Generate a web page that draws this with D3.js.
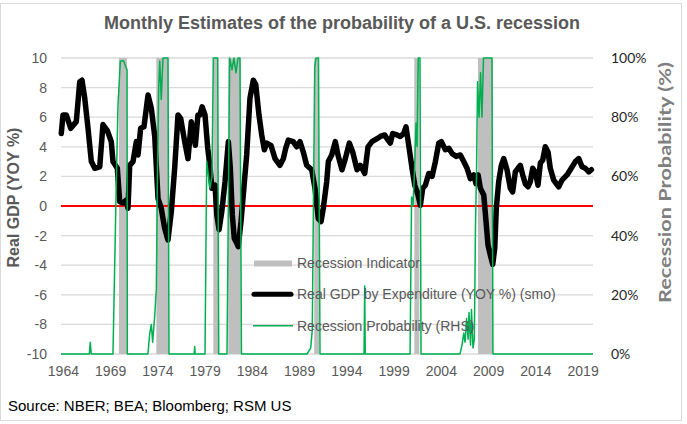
<!DOCTYPE html>
<html><head><meta charset="utf-8">
<script src="https://cdn.jsdelivr.net/npm/d3@7"></script>
<style>body{margin:0;background:#fff} svg{display:block}</style>
</head><body><svg id="c" width="687" height="424"></svg>
<script>
const yearTicks = [1964,1969,1974,1979,1984,1989,1994,1999,2004,2009,2014,2019];
const gdpTicks = [-10,-8,-6,-4,-2,0,2,4,6,8,10];
const probTicks = [0,20,40,60,80,100];
const recessionStart = [1969.93,1973.89,1979.92,1981.5,1990.6,2001.19,2007.93];
const recessionEnd   = [1970.78,1975.2,1980.45,1982.82,1991.1,2001.72,2009.49];
const gdpDates = [1963.83,1964.01,1964.36,1964.83,1965.42,1965.78,1966.02,1966.31,1966.66,1967.01,1967.37,1967.9,1968.24,1968.7,1969.12,1969.3,1969.76,1970.01,1970.36,1970.71,1970.89,1971.07,1971.42,1971.77,1971.95,1972.23,1972.58,1973.01,1973.36,1973.72,1974.07,1974.41,1974.77,1975.12,1975.47,1975.83,1976.18,1976.47,1976.89,1977.24,1977.59,1978.02,1978.29,1978.5,1978.74,1979.04,1979.33,1979.58,1979.76,1980.1,1980.29,1980.53,1980.81,1981.16,1981.51,1981.72,1981.93,1982.14,1982.39,1982.56,1982.85,1983.09,1983.45,1983.8,1984.15,1984.41,1984.75,1985.04,1985.32,1985.57,1986.02,1986.45,1986.97,1987.33,1987.58,1987.86,1988.38,1988.74,1989.09,1989.44,1989.8,1990.33,1990.68,1991.03,1991.32,1991.56,1991.92,1992.09,1992.45,1992.83,1993.11,1993.54,1993.89,1994.31,1994.67,1995.13,1995.47,1995.94,1996.29,1996.71,1997.24,1997.59,1998.06,1998.3,1998.65,1998.9,1999.36,1999.71,2000.07,2000.31,2000.6,2000.95,2001.24,2001.58,2001.83,2002.08,2002.36,2002.72,2003.07,2003.42,2003.78,2004.05,2004.48,2004.84,2005.19,2005.61,2006.06,2006.42,2006.77,2007.12,2007.48,2007.72,2007.94,2008.18,2008.54,2008.78,2008.99,2009.23,2009.49,2009.7,2009.87,2010.12,2010.4,2010.65,2011.0,2011.35,2011.6,2011.88,2012.16,2012.41,2012.66,2012.94,2013.22,2013.47,2013.72,2013.99,2014.28,2014.53,2014.78,2015.05,2015.34,2015.58,2015.94,2016.47,2016.82,2017.35,2017.7,2018.23,2018.59,2018.94,2019.29,2019.65,2019.93];
const gdpValues = [4.9,6.15,6.15,5.25,5.7,8.4,8.5,7.3,5.25,3.0,2.55,2.65,5.5,5.1,4.35,3.0,2.55,0.3,0.2,0.4,-0.15,2.75,3.0,4.35,3.45,5.25,5.35,7.5,6.6,4.7,0.5,-0.15,-1.5,-2.3,-0.4,2.55,6.15,5.9,4.35,3.2,5.7,4.1,6.15,6.15,6.7,6.15,3.9,2.55,1.2,1.4,-0.6,-1.6,-0.4,1.65,4.35,2.55,-0.6,-2.2,-2.5,-2.75,-1.05,0.75,3.45,7.3,8.5,8.2,6.15,4.8,3.8,4.25,4.1,3.2,2.75,3.2,3.9,4.45,4.35,4.0,4.35,3.65,2.75,2.45,1.2,-0.85,-1.05,-0.15,1.65,3.0,3.45,4.35,3.45,2.45,3.2,4.25,3.65,2.45,2.75,2.2,4.0,4.35,4.55,4.7,4.8,4.55,4.25,4.9,4.8,4.7,4.9,5.35,4.1,2.55,1.4,0.75,0.05,1.2,1.4,2.2,2.0,3.0,4.25,4.35,3.8,3.9,3.55,3.35,3.45,3.0,2.55,1.85,2.1,1.5,2.1,1.2,0.75,-1.05,-2.65,-3.3,-3.95,-2.85,-0.15,1.65,2.75,3.2,2.45,1.2,0.95,2.3,2.55,2.75,2.1,1.5,1.3,1.65,2.55,2.3,1.4,2.9,3.1,4.0,3.65,2.55,1.75,1.3,1.75,2.1,2.45,3.0,3.2,2.65,2.55,2.3,2.45];
const probDates = [1963.8,1966.8,1966.9,1967.0,1969.3,1969.64,1969.83,1970.08,1970.44,1970.65,1970.79,1970.82,1973.0,1973.19,1973.36,1973.5,1973.72,1973.89,1973.99,1974.14,1974.25,1974.41,1974.59,1975.12,1975.23,1977.9,1977.95,1978.0,1979.04,1979.22,1979.57,1979.78,1979.92,1980.38,1980.49,1981.37,1981.65,1981.9,1982.1,1982.32,1982.53,1982.74,1982.9,1989.83,1990.22,1990.39,1990.65,1990.79,1991.05,1991.21,1995.87,1995.94,1996.0,2000.74,2000.9,2001.05,2001.21,2001.37,2001.48,2001.61,2001.79,2001.9,2006.02,2006.24,2006.42,2006.56,2006.72,2006.88,2006.98,2007.14,2007.24,2007.4,2007.54,2007.67,2007.77,2007.88,2008.04,2008.2,2008.35,2008.51,2009.41,2009.51,2020.1];
const probValues = [0,0,4,0,0,56,84,99,99,97,96,0,0,7,10,4,13,22,56,90,99,86,100,100,0,0,2.5,0,0,65,56,60,100,100,0,0,100,96,100,95,100,100,0,0,2,8,97,100,100,0,0,23,0,0,53,50,62,78,70,100,100,0,0,3,7,4,12,5,14,3,15,2,5,45,60,92,80,95,80,100,100,0,0];

const svg = d3.select("#c");
const L = 61, R = 593, T = 58, B = 354;
const x = d3.scaleLinear().domain([1963.8, 2020.1]).range([L, R]);
const yL = d3.scaleLinear().domain([-10, 10]).range([B, T]);
const yR = d3.scaleLinear().domain([0, 100]).range([B, T]);

// frame
svg.append("rect").attr("x",0.5).attr("y",3.5).attr("width",681).attr("height",417)
  .attr("fill","#fff").attr("stroke","#D9D9D9").attr("stroke-width",1);

// gridlines
svg.append("g").selectAll("line").data(gdpTicks).join("line")
  .attr("x1",L).attr("x2",R).attr("y1",d=>yL(d)).attr("y2",d=>yL(d))
  .attr("stroke","#D9D9D9").attr("stroke-width",1.3);

// recession bands
svg.append("g").selectAll("rect").data(recessionStart).join("rect")
  .attr("x",(d)=>x(d)).attr("width",(d,i)=>x(recessionEnd[i])-x(d))
  .attr("y",yR(100)).attr("height",yR(0)-yR(100)).attr("fill","#BFBFBF");

// zero line
svg.append("line").attr("x1",L).attr("x2",R).attr("y1",yL(0)).attr("y2",yL(0))
  .attr("stroke","#FF0000").attr("stroke-width",2);

// GDP line
const gdpLine = d3.line().x((d,i)=>x(gdpDates[i])).y(d=>yL(d));
svg.append("path").datum(gdpValues).attr("d",gdpLine).attr("fill","none")
  .attr("stroke","#000").attr("stroke-width",5.5).attr("stroke-linejoin","round").attr("stroke-linecap","round");

// probability line
const probLine = d3.line().x((d,i)=>x(probDates[i])).y(d=>yR(d));
svg.append("path").datum(probValues).attr("d",probLine).attr("fill","none")
  .attr("stroke","#00B050").attr("stroke-width",1.5).attr("stroke-linejoin","round");

// axes
const fontA = "'Liberation Sans', Arial, sans-serif";
const gL = svg.append("g").attr("transform",`translate(${L},0)`)
  .call(d3.axisLeft(yL).tickValues(gdpTicks).tickSize(0).tickPadding(14).tickFormat(d=>String(d)));
gL.select(".domain").remove();
gL.selectAll("text").attr("font-family",fontA).attr("font-size",14).attr("fill","#595959");

const gR = svg.append("g").attr("transform",`translate(${R},0)`)
  .call(d3.axisRight(yR).tickValues(probTicks).tickSize(0).tickPadding(18).tickFormat(d=>d+"%"));
gR.select(".domain").remove();
gR.selectAll("text").attr("font-family","Lato, 'Open Sans', sans-serif").attr("font-size",14).attr("fill","#262626");

const gB = svg.append("g").attr("transform",`translate(0,${B})`)
  .call(d3.axisBottom(x).tickValues(yearTicks).tickSize(0).tickPadding(12).tickFormat(d=>String(d)));
gB.select(".domain").remove();
gB.selectAll("text").attr("font-family",fontA).attr("font-size",14).attr("fill","#595959");

// titles
svg.append("text").attr("x",342).attr("y",29).attr("text-anchor","middle")
  .attr("font-family",fontA).attr("font-weight","bold").attr("font-size",18).attr("fill","#595959")
  .text("Monthly Estimates of the probability of a U.S. recession");
svg.append("text").attr("transform","translate(13,197.5) rotate(-90)").attr("dy","0.35em").attr("text-anchor","middle")
  .attr("font-family",fontA).attr("font-weight","bold").attr("font-size",16).attr("fill","#595959")
  .text("Real GDP (YOY %)");
svg.append("text").attr("transform","translate(665,182.5) rotate(-90)").attr("dy","0.35em").attr("text-anchor","middle")
  .attr("font-family","Lato, 'Open Sans', sans-serif").attr("font-weight","bold").attr("font-size",17).attr("fill","#7F7F7F")
  .attr("textLength",241).attr("lengthAdjust","spacingAndGlyphs")
  .text("Recession Probability (%)");
svg.append("text").attr("x",8).attr("y",411)
  .attr("font-family",fontA).attr("font-size",15).attr("fill","#000")
  .text("Source: NBER; BEA; Bloomberg; RSM US");

// legend
const lg = svg.append("g");
const legendLabels = ["Recession Indicator","Real GDP by Expenditure (YOY %) (smo)","Recession Probability (RHS)"];
const ly = [263.5, 294.3, 325.7];
lg.append("rect").attr("x",254).attr("y",ly[0]-3).attr("width",38).attr("height",6).attr("fill","#BFBFBF");
lg.append("line").attr("x1",254).attr("x2",291).attr("y1",ly[1]).attr("y2",ly[1]).attr("stroke","#000").attr("stroke-width",5).attr("stroke-linecap","round");
lg.append("line").attr("x1",253).attr("x2",293).attr("y1",ly[2]).attr("y2",ly[2]).attr("stroke","#00B050").attr("stroke-width",1.5);
lg.selectAll("text").data(legendLabels).join("text").attr("x",297).attr("y",(d,i)=>ly[i]).attr("dy","0.35em")
  .attr("font-family",fontA).attr("font-size",14).attr("fill","#595959").text(d=>d);
</script></body></html>
